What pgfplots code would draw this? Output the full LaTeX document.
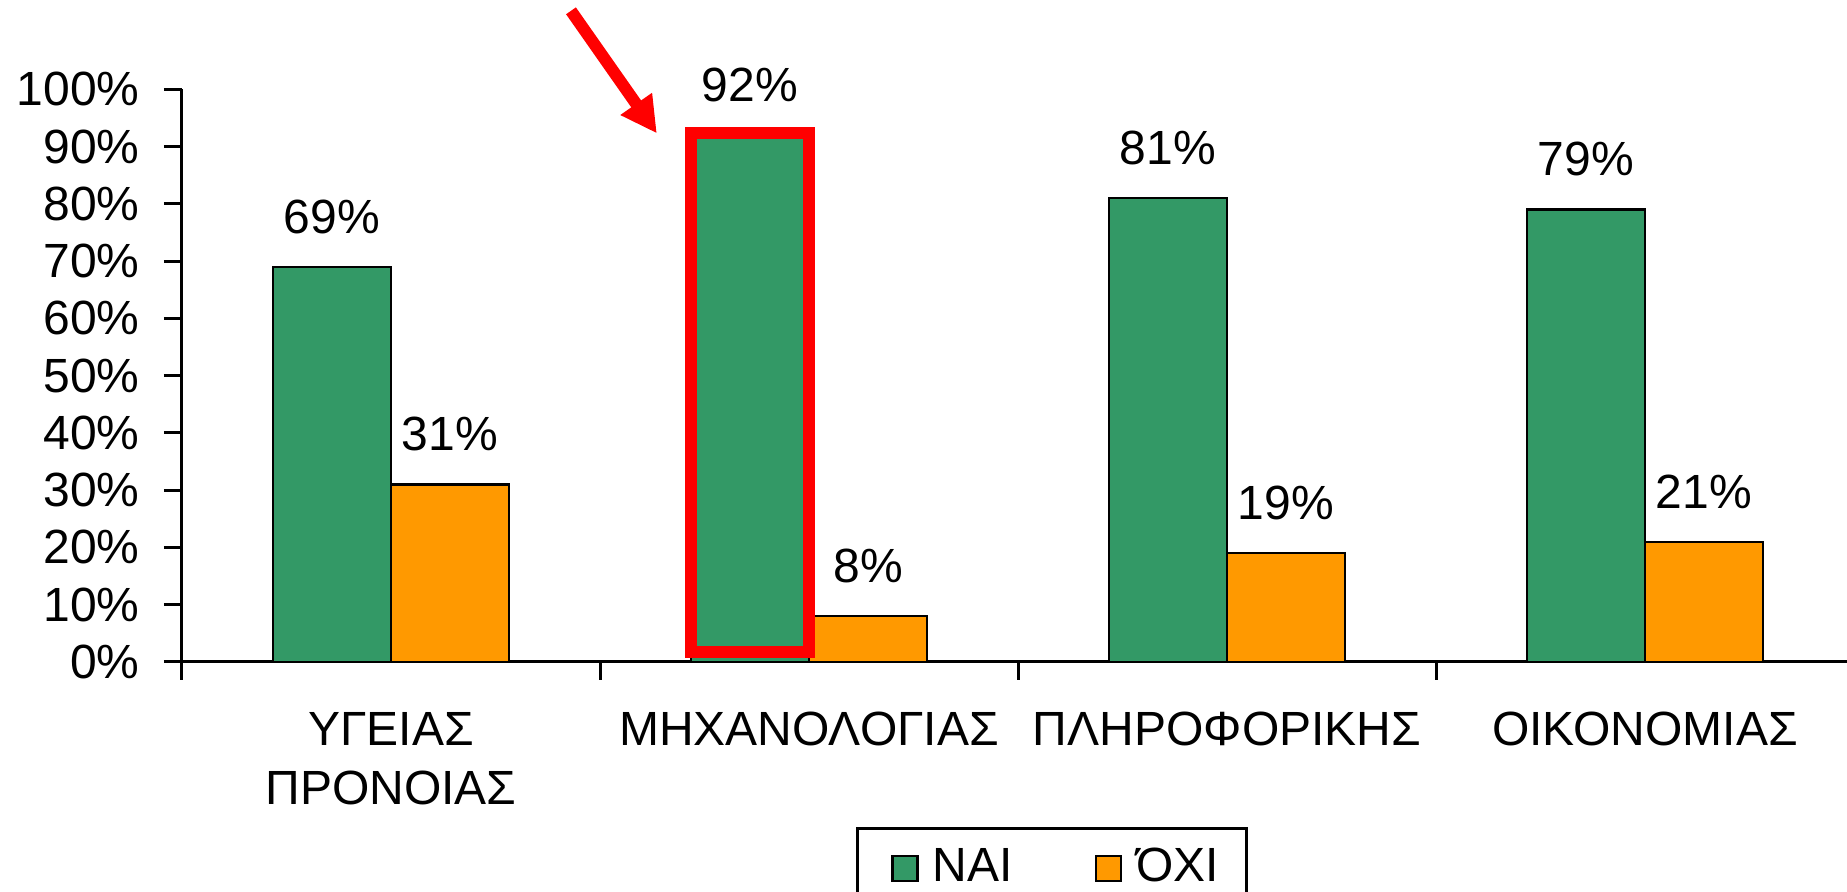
\documentclass[border=0pt]{standalone}
\usepackage{pgfplots}
\pgfplotsset{compat=1.18}
\usepackage{fontspec}
\setmainfont{Liberation Sans}
\usetikzlibrary{arrows.meta}
\definecolor{nai}{HTML}{339966}
\definecolor{oxi}{HTML}{FF9900}
\pgfplotsset{
  mylegend/.style={legend image code/.code={\path (-5pt,0pt); \draw[##1,line width=1.2pt,draw=black] (0pt,-6.25pt) rectangle (12.5pt,6.25pt);}},
}
\begin{document}
\fontsize{24}{29.5}\selectfont
\begin{tikzpicture}
\begin{axis}[
  at={(0pt,0pt)}, anchor=south west,
  scale only axis, width=836pt, height=286.35pt,
  xmin=-0.5, xmax=3.5, ymin=0, ymax=100,
  clip=false,
  ybar, bar width=0.2823,
  axis x line*=bottom, axis y line*=left,
  axis line style={line width=1.5pt},
  /pgf/number format/assume math mode=true,
  font=\fontsize{24}{29.5}\selectfont,
  tick align=outside,
  major tick length=9pt, minor tick length=9pt,
  every tick/.style={black, line width=1.5pt},
  xtick={0,1,2,3},
  xticklabels={{ΥΓΕΙΑΣ\\ΠΡΟΝΟΙΑΣ},ΜΗΧΑΝΟΛΟΓΙΑΣ,ΠΛΗΡΟΦΟΡΙΚΗΣ,ΟΙΚΟΝΟΜΙΑΣ},
  major x tick style={draw=none},
  minor xtick={-0.5,0.5,1.5,2.5,3.5},
  xticklabel style={align=center, font=\fontsize{24}{29.5}\selectfont, yshift=-8pt},
  ytick={0,10,...,100},
  yticklabel={\pgfmathprintnumber{\tick}\%},
  yticklabel style={font=\fontsize{24}{29.5}\selectfont, xshift=-4pt},
  nodes near coords={\pgfmathprintnumber{\pgfplotspointmeta}\%},
  every node near coord/.append style={inner sep=0pt, yshift=16pt, font=\fontsize{24}{29.5}\selectfont, black},
  legend columns=2,
  legend style={at={(0.4031,-0.2876)}, anchor=north west, draw=black, line width=1.5pt,
     inner xsep=12pt, inner ysep=8pt,
     font=\fontsize{24}{29.5}\selectfont,
     /tikz/every odd column/.append style={column sep=5pt},
     /tikz/every even column/.append style={column sep=34pt}},
]
\addplot[fill=nai, draw=black, line width=1.2pt, bar shift=-0.14115, mylegend] coordinates {(0,69) (1,92) (2,81) (3,79)};
\addlegendentry{ΝΑΙ}
\addplot[fill=oxi, draw=black, line width=1.2pt, bar shift=0.14115, mylegend] coordinates {(0,31) (1,8) (2,19) (3,21)};
\addlegendentry{ΌΧΙ}
\draw[red, line width=6pt] (axis cs:0.7177,1.75) rectangle (axis cs:1.0,92.3);
\draw[red, line width=6pt, -{Triangle[length=18pt,width=18pt]}] (axis cs:0.4306,113.7) -- (axis cs:0.636,92.3);
\end{axis}
\pgfresetboundingbox
\useasboundingbox (-91pt,-115pt) rectangle (832.5pt,331pt);
\end{tikzpicture}
\end{document}
